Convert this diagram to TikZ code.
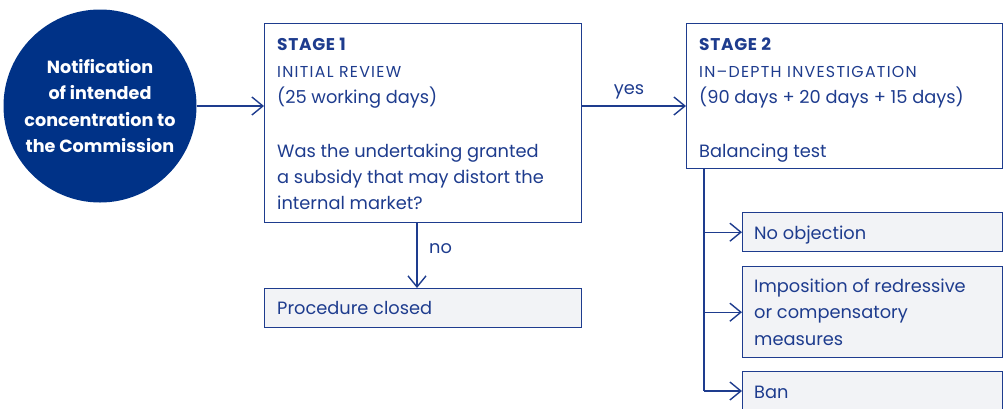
\documentclass[tikz,border=0pt]{standalone}
\usepackage{fontspec}
\setmainfont{Poppins}
\usetikzlibrary{arrows.meta}
\definecolor{navy}{HTML}{003287}
\definecolor{ink}{HTML}{1E3C8E}
\definecolor{panel}{HTML}{F2F3F6}
\tikzset{
  line/.style={draw=ink, line width=1.4pt},
  flow/.style={line, -{Straight Barb[length=11pt,width=18pt,line width=1.4pt]}},
  stagebox/.style={line, fill=white, anchor=north west, inner sep=0pt},
  outcome/.style={line, fill=panel, anchor=north west, inner sep=0pt},
  txt/.style={anchor=base west, inner sep=0pt, text=ink, font=\fontsize{17.8}{20}\selectfont},
  head/.style={txt, font=\fontsize{17}{20}\selectfont\bfseries\addfontfeature{LetterSpace=4}},
  caps/.style={txt, font=\fontsize{15.8}{20}\selectfont\addfontfeature{LetterSpace=8}},
}
\begin{document}
\begin{tikzpicture}[x=1pt, y=-1pt]
\useasboundingbox (0,0) rectangle (1003,408);

% start of the procedure
\node[circle, fill=navy, minimum size=193pt, inner sep=0pt] (notif) at (100,106) {};
\foreach \t/\y in {Notification/73, of intended/99, concentration to/126, the Commission/152}
  \node[anchor=base, inner sep=0pt, text=white, font=\fontsize{17.6}{20}\selectfont\bfseries] at (100,\y) {\t};

% stage 1
\node[stagebox, minimum width=317pt, minimum height=199pt] (s1) at (264,23) {};
\node[head] at (277,50) {STAGE 1};
\node[caps] at (277,77) {INITIAL REVIEW};
\node[txt] at (277,103) {(25 working days)};
\node[txt] at (277,157) {Was the undertaking granted};
\node[txt] at (277,183) {a subsidy that may distort the};
\node[txt] at (277,209) {internal market?};

% stage 2
\node[stagebox, minimum width=316pt, minimum height=145pt] (s2) at (686,23) {};
\node[head] at (699,50) {STAGE 2};
\node[caps] at (699,77) {IN–DEPTH INVESTIGATION};
\node[txt] at (699,103) {(90 days + 20 days + 15 days)};
\node[txt] at (699,157) {Balancing test};

% outcomes
\node[outcome, minimum width=317pt, minimum height=39pt] (closed) at (264,288) {};
\node[txt] at (277,314) {Procedure closed};

\node[outcome, minimum width=260pt, minimum height=39pt] (noobj) at (742,212) {};
\node[txt] at (754,239) {No objection};

\node[outcome, minimum width=260pt, minimum height=91pt] (redress) at (742,266) {};
\node[txt] at (754,292) {Imposition of redressive};
\node[txt] at (754,318) {or compensatory};
\node[txt] at (754,345) {measures};

\node[outcome, minimum width=260pt, minimum height=50pt] (ban) at (742,371) {};
\node[txt] at (754,398) {Ban};

% connectors
\draw[flow] (notif.east) -- (notif.east -| s1.west);
\draw[flow] (s1.east |- 0,106) -- (s2.west |- 0,106);
\node[anchor=base, inner sep=0pt, text=ink, font=\fontsize{17.8}{20}\selectfont] (yes) at (629,94) {yes};
\draw[flow] (s1.south -| 417,0) coordinate (nofork) -- (closed.north -| nofork);
\node[txt] (no) at (429,253) {no};
\coordinate (trunk) at (s2.south -| 704,0);
\draw[line] (trunk) -- (704,391);
\draw[flow] (trunk |- noobj.west) -- (noobj.west);
\draw[flow] (trunk |- redress.west) -- (redress.west);
\draw[flow] (704,391) -- (ban.west |- 0,391);
\end{tikzpicture}
\end{document}
